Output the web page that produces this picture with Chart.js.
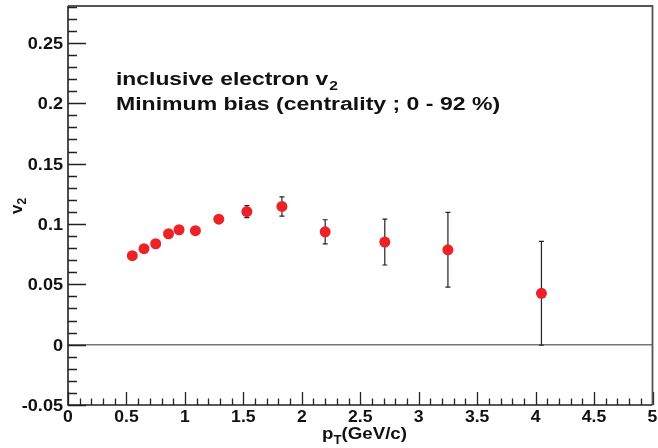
<!doctype html>
<html lang="en">
<head>
    <meta charset="utf-8">
    <script src="https://cdn.jsdelivr.net/npm/chart.js@4.4.0/dist/chart.umd.min.js"></script>
    <title>inclusive electron v2</title>
    <style>
        html, body { margin: 0; padding: 0; background: #fff; }
    </style>
</head>
<body>
    <canvas id="myChart" width="658" height="448"></canvas>

    <script>
        // data
        const ptValues = [0.55, 0.65, 0.75, 0.86, 0.95, 1.09, 1.29, 1.53, 1.83, 2.2, 2.71, 3.25, 4.05];
        const v2Values = [0.0737, 0.0795, 0.0836, 0.0919, 0.0952, 0.0944, 0.104, 0.1103, 0.1145, 0.0935, 0.085, 0.0786, 0.0425];
        const v2Errors = [0.001, 0.001, 0.001, 0.001, 0.001, 0.001, 0.002, 0.005, 0.008, 0.010, 0.019, 0.031, 0.043];
        const xTicks = [0, 0.5, 1, 1.5, 2, 2.5, 3, 3.5, 4, 4.5, 5];
        const yTicks = [-0.05, 0, 0.05, 0.1, 0.15, 0.2, 0.25];

        const fam = '"Liberation Sans", Arial, sans-serif';

        // the original picture is a bit stretched sideways, so text is too
        function wideText(c, txt, x, y, sx, align) {
            c.save();
            c.translate(x, y);
            c.scale(sx, 1);
            c.textAlign = align || 'left';
            c.fillText(txt, 0, 0);
            c.restore();
            return c.measureText(txt).width * sx;
        }

        // ROOT style frame, inner ticks, labels, error bars and texts
        const rootStyle = {
            id: 'rootStyle',
            beforeDatasetsDraw(chart) {
                const c = chart.ctx, a = chart.chartArea;
                const xs = chart.scales.x, ys = chart.scales.y;
                c.save();
                // zero line
                c.strokeStyle = '#777';
                c.lineWidth = 1.5;
                c.beginPath();
                c.moveTo(a.left, ys.getPixelForValue(0));
                c.lineTo(a.right, ys.getPixelForValue(0));
                c.stroke();
                // error bars
                c.strokeStyle = '#222';
                c.lineWidth = 1.2;
                for (let i = 0; i < ptValues.length; i++) {
                    const px = xs.getPixelForValue(ptValues[i]);
                    const top = ys.getPixelForValue(v2Values[i] + v2Errors[i]);
                    const bot = ys.getPixelForValue(v2Values[i] - v2Errors[i]);
                    c.beginPath();
                    c.moveTo(px, top); c.lineTo(px, bot);
                    c.moveTo(px - 2.5, top); c.lineTo(px + 2.5, top);
                    c.moveTo(px - 2.5, bot); c.lineTo(px + 2.5, bot);
                    c.stroke();
                }
                c.restore();
            },
            afterDraw(chart) {
                const c = chart.ctx, a = chart.chartArea;
                const xs = chart.scales.x, ys = chart.scales.y;
                c.save();
                c.strokeStyle = '#222';
                c.lineWidth = 1.3;
                c.beginPath();
                // y ticks every 0.01, long every 0.05
                for (let k = -5; k <= 28; k++) {
                    const py = Math.round(ys.getPixelForValue(k / 100)) + 0.5;
                    const len = (k % 5 === 0) ? 18 : 9;
                    c.moveTo(a.left, py); c.lineTo(a.left + len, py);
                }
                // x ticks every 0.1, long every 0.5
                for (let k = 0; k <= 50; k++) {
                    const px = Math.round(xs.getPixelForValue(k / 10)) + 0.5;
                    const len = (k % 5 === 0) ? 13 : 6.5;
                    c.moveTo(px, a.bottom); c.lineTo(px, a.bottom - len);
                }
                c.stroke();
                // frame
                c.strokeStyle = '#555';
                c.lineWidth = 1.8;
                c.beginPath();
                c.moveTo(a.left, a.top); c.lineTo(a.right, a.top); c.lineTo(a.right, a.bottom);
                c.stroke();
                c.strokeStyle = '#222';
                c.lineWidth = 1.6;
                c.beginPath();
                c.moveTo(a.left, a.top); c.lineTo(a.left, a.bottom); c.lineTo(a.right, a.bottom);
                c.stroke();

                c.fillStyle = '#111';
                c.textBaseline = 'alphabetic';

                // tick labels
                c.font = 'bold 16px ' + fam;
                yTicks.forEach(v => {
                    wideText(c, String(v), a.left - 5, ys.getPixelForValue(v) + 6, 1.13, 'right');
                });
                xTicks.forEach(v => {
                    wideText(c, String(v), xs.getPixelForValue(v), 422, 1.1, 'center');
                });

                // texts
                c.font = 'bold 18px ' + fam;
                let w = wideText(c, 'inclusive electron v', 116, 85, 1.27);
                c.font = 'bold 13px ' + fam;
                wideText(c, '2', 116 + w + 1, 90, 1.2);
                c.font = 'bold 18px ' + fam;
                wideText(c, 'Minimum bias (centrality ; 0 - 92 %)', 116, 110, 1.28);

                // x title
                c.font = 'bold 17px ' + fam;
                w = wideText(c, 'p', 322, 439, 1.1);
                c.font = 'bold 12px ' + fam;
                const wt = wideText(c, 'T', 322 + w, 444, 1.1);
                c.font = 'bold 17px ' + fam;
                wideText(c, '(GeV/c)', 322 + w + wt, 439, 1.1);

                // y title
                c.translate(22, 214);
                c.rotate(-Math.PI / 2);
                c.font = 'bold 17px ' + fam;
                c.fillText('v', 0, 0);
                w = c.measureText('v').width;
                c.font = 'bold 12px ' + fam;
                c.fillText('2', w, 4);
                c.restore();
            }
        };

        const ctx = document.getElementById('myChart').getContext('2d');
        const chart = new Chart(ctx, {
            type: 'scatter',
            data: {
                datasets: [{
                    label: 'inclusive electron v2',
                    data: ptValues.map((x, i) => ({ x: x, y: v2Values[i] })),
                    backgroundColor: '#ec2227',
                    borderWidth: 0,
                    pointRadius: 5.5,
                    pointHoverRadius: 5.5
                }]
            },
            options: {
                responsive: false,
                animation: false,
                layout: { padding: { left: 0, top: 6, right: 3, bottom: 0 } },
                plugins: {
                    legend: { display: false },
                    tooltip: { enabled: false }
                },
                scales: {
                    x: {
                        type: 'linear',
                        min: 0,
                        max: 5,
                        grid: { display: false, drawTicks: false },
                        border: { display: false },
                        ticks: { display: false },
                        afterFit: (s) => { s.height = 43; }
                    },
                    y: {
                        type: 'linear',
                        min: -0.05,
                        max: 0.2806,
                        grid: { display: false, drawTicks: false },
                        border: { display: false },
                        ticks: { display: false },
                        afterFit: (s) => { s.width = 68; }
                    }
                }
            },
            plugins: [rootStyle]
        });
    </script>
</body>
</html>
